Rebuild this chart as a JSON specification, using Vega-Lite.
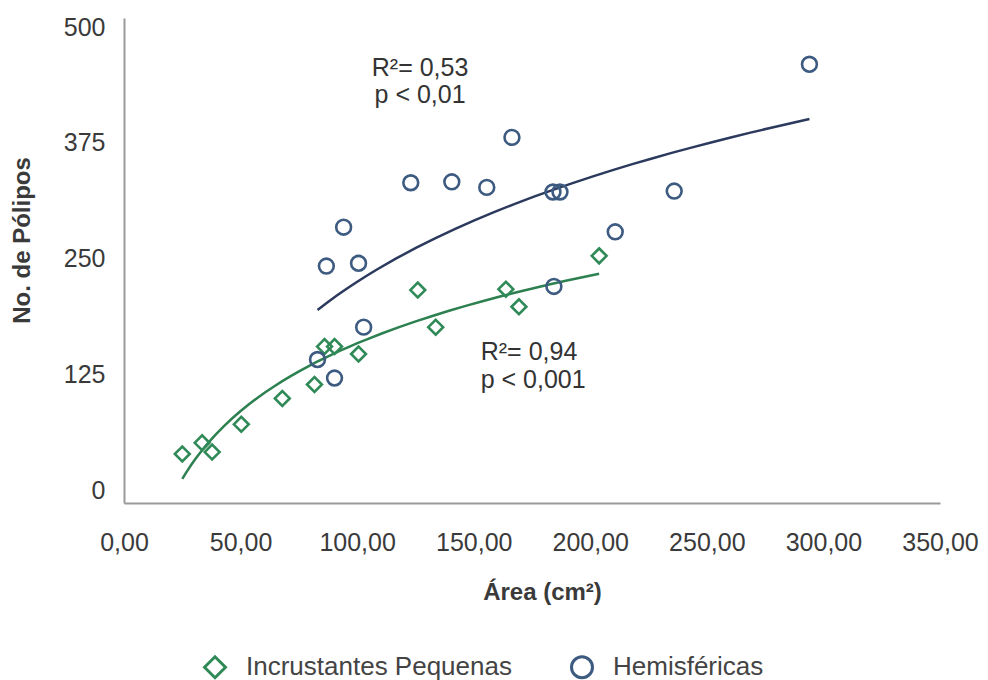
{
  "$schema": "https://vega.github.io/schema/vega-lite/v6.json",
  "width": 816,
  "height": 485,
  "autosize": {"type": "none"},
  "padding": {"left": 124, "top": 18, "right": 48, "bottom": 177},
  "background": "white",
  "config": {
    "view": {"stroke": null},
    "font": "Liberation Sans",
    "axis": {
      "grid": false,
      "ticks": false,
      "tickSize": 0,
      "domainColor": "#9a9a9a",
      "domainWidth": 2,
      "labelFontSize": 25,
      "labelColor": "#3a3a3a",
      "labelFlush": false,
      "labelOverlap": false,
      "titleFontSize": 23,
      "titleColor": "#3a3a3a",
      "titleFontWeight": "bold"
    },
    "legend": {
      "labelLimit": 600,
      "symbolSize": 440,
      "symbolStrokeWidth": 3,
      "labelFontSize": 26,
      "labelColor": "#444444",
      "labelOffset": 18,
      "columnPadding": 53
    }
  },
  "datasets": {
    "pts": [
      {"grupo": "Incrustantes Pequenas", "area": 25.0, "polipos": 39},
      {"grupo": "Incrustantes Pequenas", "area": 33.5, "polipos": 51},
      {"grupo": "Incrustantes Pequenas", "area": 37.8, "polipos": 41},
      {"grupo": "Incrustantes Pequenas", "area": 50.3, "polipos": 71},
      {"grupo": "Incrustantes Pequenas", "area": 67.9, "polipos": 99},
      {"grupo": "Incrustantes Pequenas", "area": 81.7, "polipos": 114},
      {"grupo": "Incrustantes Pequenas", "area": 86.0, "polipos": 155},
      {"grupo": "Incrustantes Pequenas", "area": 90.3, "polipos": 155},
      {"grupo": "Incrustantes Pequenas", "area": 100.6, "polipos": 147},
      {"grupo": "Incrustantes Pequenas", "area": 126.0, "polipos": 216},
      {"grupo": "Incrustantes Pequenas", "area": 133.7, "polipos": 176},
      {"grupo": "Incrustantes Pequenas", "area": 163.8, "polipos": 217},
      {"grupo": "Incrustantes Pequenas", "area": 169.4, "polipos": 198},
      {"grupo": "Incrustantes Pequenas", "area": 203.8, "polipos": 253},
      {"grupo": "Hemisféricas", "area": 83.0, "polipos": 141},
      {"grupo": "Hemisféricas", "area": 90.3, "polipos": 121},
      {"grupo": "Hemisféricas", "area": 102.8, "polipos": 176},
      {"grupo": "Hemisféricas", "area": 86.8, "polipos": 242},
      {"grupo": "Hemisféricas", "area": 94.2, "polipos": 284},
      {"grupo": "Hemisféricas", "area": 100.6, "polipos": 245},
      {"grupo": "Hemisféricas", "area": 123.0, "polipos": 332},
      {"grupo": "Hemisféricas", "area": 140.6, "polipos": 333},
      {"grupo": "Hemisféricas", "area": 155.6, "polipos": 327},
      {"grupo": "Hemisféricas", "area": 166.4, "polipos": 381},
      {"grupo": "Hemisféricas", "area": 184.0, "polipos": 322},
      {"grupo": "Hemisféricas", "area": 187.0, "polipos": 322},
      {"grupo": "Hemisféricas", "area": 184.4, "polipos": 220},
      {"grupo": "Hemisféricas", "area": 210.7, "polipos": 279},
      {"grupo": "Hemisféricas", "area": 236.0, "polipos": 323},
      {"grupo": "Hemisféricas", "area": 294.0, "polipos": 460}
    ],
    "notesC": [
      {"area": 127, "polipos": 456, "label": "R²= 0,53"},
      {"area": 127, "polipos": 427, "label": "p < 0,01"}
    ],
    "notesL": [
      {"area": 153, "polipos": 149, "label": "R²= 0,94"},
      {"area": 153, "polipos": 119, "label": "p < 0,001"}
    ]
  },
  "layer": [
    {
      "data": {"name": "pts"},
      "transform": [
        {"filter": "datum.grupo === 'Hemisféricas'"},
        {"regression": "polipos", "on": "area", "method": "log"}
      ],
      "mark": {"type": "line", "strokeWidth": 2.5, "color": "#2c3a5e"},
      "encoding": {
        "x": {"field": "area", "type": "quantitative"},
        "y": {"field": "polipos", "type": "quantitative"}
      }
    },
    {
      "data": {"name": "pts"},
      "transform": [
        {"filter": "datum.grupo === 'Incrustantes Pequenas'"},
        {"regression": "polipos", "on": "area", "method": "log"}
      ],
      "mark": {"type": "line", "strokeWidth": 2.5, "color": "#2d8050"},
      "encoding": {
        "x": {"field": "area", "type": "quantitative"},
        "y": {"field": "polipos", "type": "quantitative"}
      }
    },
    {
      "data": {"name": "pts"},
      "mark": {"type": "point", "filled": false, "strokeWidth": 2.6, "size": 220, "opacity": 1},
      "encoding": {
        "x": {
          "field": "area",
          "type": "quantitative",
          "scale": {"domain": [0, 350], "nice": false},
          "axis": {
            "values": [0, 50, 100, 150, 200, 250, 300, 350],
            "labelExpr": "replace(format(datum.value, '.2f'), '.', ',')",
            "labelPadding": 27,
            "title": "Área (cm²)",
            "titleX": 418,
            "titleY": 89,
            "titleBaseline": "middle",
            "titleFontSize": 24
          }
        },
        "y": {
          "field": "polipos",
          "type": "quantitative",
          "scale": {"domain": [-14, 510], "nice": false, "zero": false},
          "axis": {
            "values": [0, 125, 250, 375, 500],
            "format": "d",
            "labelPadding": 19,
            "title": "No. de Pólipos",
            "titleX": -102,
            "titleY": 222,
            "titleAngle": -90,
            "titleAlign": "center",
            "titleBaseline": "middle",
            "titleFontSize": 24
          }
        },
        "color": {
          "field": "grupo",
          "type": "nominal",
          "scale": {"domain": ["Incrustantes Pequenas", "Hemisféricas"], "range": ["#2f8a57", "#3d5a80"]},
          "legend": {
            "title": null,
            "orient": "none",
            "direction": "horizontal",
            "legendX": 78,
            "legendY": 636
          }
        },
        "shape": {
          "field": "grupo",
          "type": "nominal",
          "scale": {"domain": ["Incrustantes Pequenas", "Hemisféricas"], "range": ["diamond", "circle"]}
        }
      }
    },
    {
      "data": {"name": "notesC"},
      "mark": {"type": "text", "align": "center", "baseline": "middle", "fontSize": 25, "color": "#333333"},
      "encoding": {
        "x": {"field": "area", "type": "quantitative"},
        "y": {"field": "polipos", "type": "quantitative"},
        "text": {"field": "label"}
      }
    },
    {
      "data": {"name": "notesL"},
      "mark": {"type": "text", "align": "left", "baseline": "middle", "fontSize": 25, "color": "#333333"},
      "encoding": {
        "x": {"field": "area", "type": "quantitative"},
        "y": {"field": "polipos", "type": "quantitative"},
        "text": {"field": "label"}
      }
    }
  ]
}
